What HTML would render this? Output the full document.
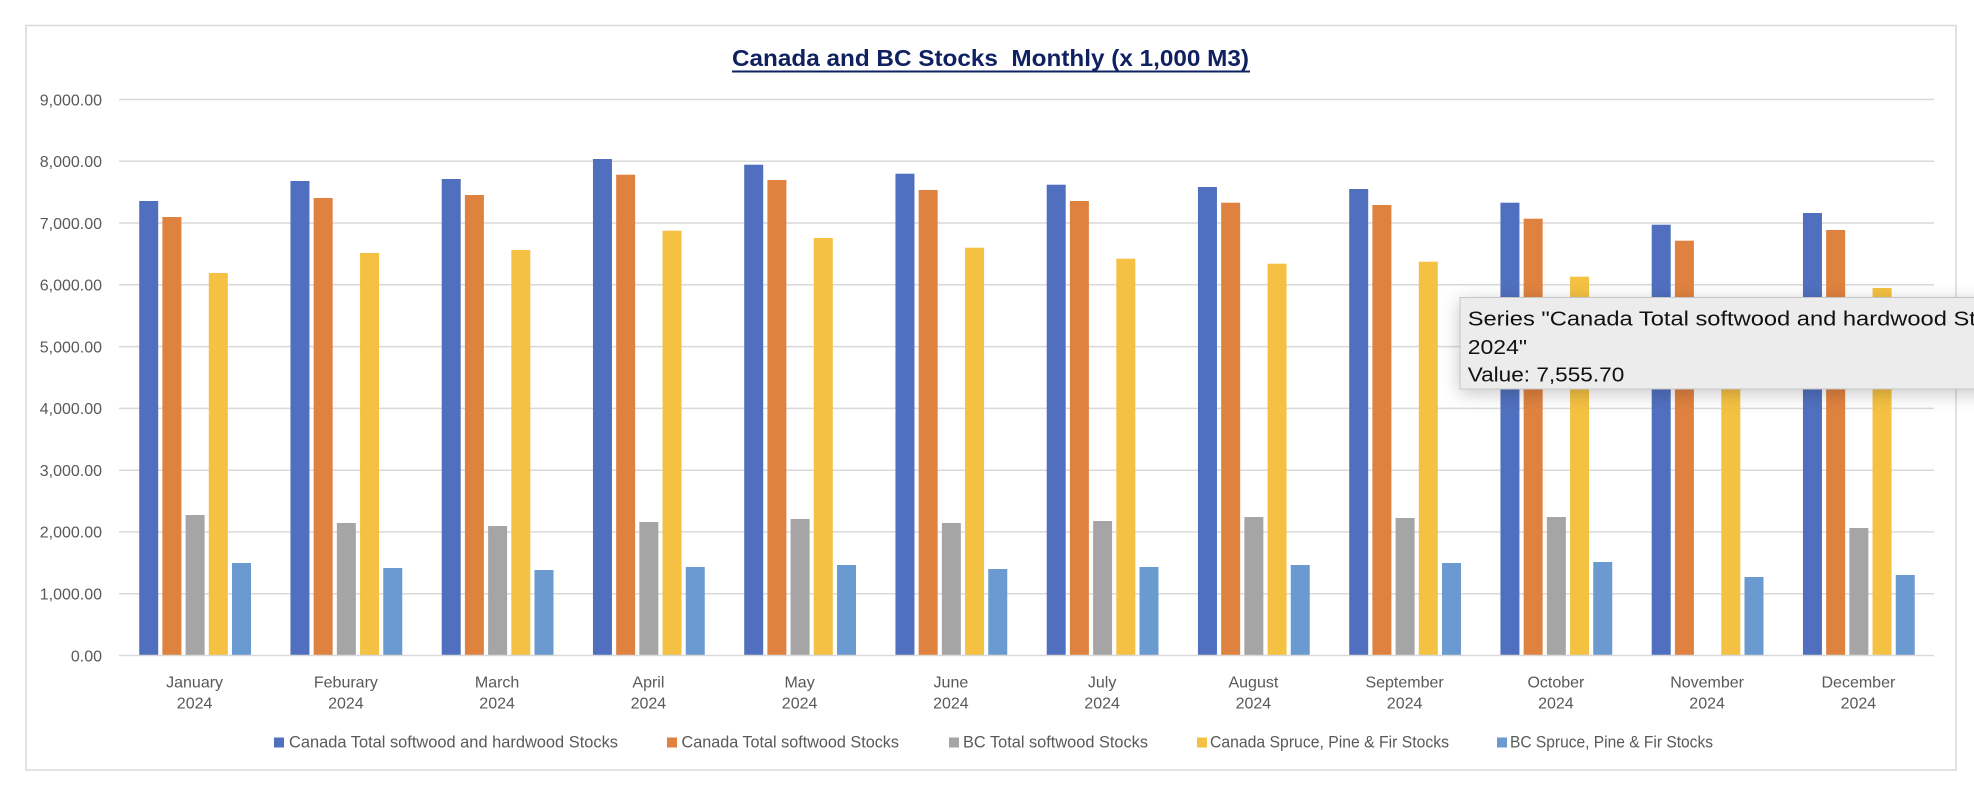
<!DOCTYPE html>
<html>
<head>
<meta charset="utf-8">
<style>
  html, body { margin: 0; padding: 0; background: #ffffff; }
  svg { display: block; }
  text { font-family: "Liberation Sans", Arial, sans-serif; }
</style>
</head>
<body>
<svg width="1974" height="792" viewBox="0 0 1974 792" xmlns="http://www.w3.org/2000/svg">
  <defs>
    <filter id="sh" x="-20%" y="-60%" width="140%" height="220%">
      <feDropShadow dx="0" dy="4" stdDeviation="9" flood-color="#000" flood-opacity="0.22"/>
    </filter>
  </defs>
  <rect x="0" y="0" width="1974" height="792" fill="#ffffff"/>
  <!-- chart border -->
  <rect x="26" y="25.5" width="1930" height="744.5" fill="#ffffff" stroke="#d9d9d9" stroke-width="1.5"/>

  <!-- title -->
  <text x="732" y="66" font-size="23" font-weight="bold" fill="#0f2161" textLength="517" lengthAdjust="spacingAndGlyphs" xml:space="preserve">Canada and BC Stocks  Monthly (x 1,000 M3)</text>
  <rect x="732" y="70.5" width="518" height="2" fill="#0f2161"/>

  <!-- gridlines -->
  <g stroke="#d9d9d9" stroke-width="1.5">
    <line x1="119" x2="1934" y1="99.5" y2="99.5"/>
    <line x1="119" x2="1934" y1="161.3" y2="161.3"/>
    <line x1="119" x2="1934" y1="223.0" y2="223.0"/>
    <line x1="119" x2="1934" y1="284.8" y2="284.8"/>
    <line x1="119" x2="1934" y1="346.6" y2="346.6"/>
    <line x1="119" x2="1934" y1="408.4" y2="408.4"/>
    <line x1="119" x2="1934" y1="470.2" y2="470.2"/>
    <line x1="119" x2="1934" y1="531.9" y2="531.9"/>
    <line x1="119" x2="1934" y1="593.7" y2="593.7"/>
  </g>

  <!-- y labels -->
  <g font-size="16" fill="#595959" text-anchor="end">
    <text x="102" y="105.3">9,000.00</text>
    <text x="102" y="167.1">8,000.00</text>
    <text x="102" y="228.8">7,000.00</text>
    <text x="102" y="290.6">6,000.00</text>
    <text x="102" y="352.4">5,000.00</text>
    <text x="102" y="414.2">4,000.00</text>
    <text x="102" y="476.0">3,000.00</text>
    <text x="102" y="537.7">2,000.00</text>
    <text x="102" y="599.5">1,000.00</text>
    <text x="102" y="661.3">0.00</text>
  </g>

  <!-- bars: Canada Total softwood and hardwood -->
  <g fill="#5070bf">
    <rect x="139.2" y="201" width="19" height="454.5"/>
    <rect x="290.45" y="181" width="19" height="474.5"/>
    <rect x="441.7" y="179" width="19" height="476.5"/>
    <rect x="592.95" y="159" width="19" height="496.5"/>
    <rect x="744.2" y="164.7" width="19" height="490.8"/>
    <rect x="895.45" y="173.7" width="19" height="481.8"/>
    <rect x="1046.7" y="184.7" width="19" height="470.8"/>
    <rect x="1197.95" y="187" width="19" height="468.5"/>
    <rect x="1349.2" y="189" width="19" height="466.5"/>
    <rect x="1500.45" y="202.7" width="19" height="452.8"/>
    <rect x="1651.7" y="224.7" width="19" height="430.8"/>
    <rect x="1802.95" y="213" width="19" height="442.5"/>
  </g>
  <!-- Canada Total softwood -->
  <g fill="#e0823f">
    <rect x="162.4" y="217" width="19" height="438.5"/>
    <rect x="313.65" y="198" width="19" height="457.5"/>
    <rect x="464.9" y="195" width="19" height="460.5"/>
    <rect x="616.15" y="174.7" width="19" height="480.8"/>
    <rect x="767.4" y="180" width="19" height="475.5"/>
    <rect x="918.65" y="190" width="19" height="465.5"/>
    <rect x="1069.9" y="201" width="19" height="454.5"/>
    <rect x="1221.15" y="202.7" width="19" height="452.8"/>
    <rect x="1372.4" y="205" width="19" height="450.5"/>
    <rect x="1523.65" y="218.7" width="19" height="436.8"/>
    <rect x="1674.9" y="240.7" width="19" height="414.8"/>
    <rect x="1826.15" y="230" width="19" height="425.5"/>
  </g>
  <!-- BC Total softwood -->
  <g fill="#a5a5a5">
    <rect x="185.6" y="515" width="19" height="140.5"/>
    <rect x="336.85" y="523" width="19" height="132.5"/>
    <rect x="488.1" y="526" width="19" height="129.5"/>
    <rect x="639.35" y="522" width="19" height="133.5"/>
    <rect x="790.6" y="519" width="19" height="136.5"/>
    <rect x="941.85" y="523" width="19" height="132.5"/>
    <rect x="1093.1" y="521" width="19" height="134.5"/>
    <rect x="1244.35" y="517" width="19" height="138.5"/>
    <rect x="1395.6" y="518" width="19" height="137.5"/>
    <rect x="1546.85" y="517" width="19" height="138.5"/>
    <rect x="1849.35" y="528" width="19" height="127.5"/>
  </g>
  <!-- Canada Spruce, Pine & Fir -->
  <g fill="#f4c142">
    <rect x="208.8" y="273" width="19" height="382.5"/>
    <rect x="360.05" y="253" width="19" height="402.5"/>
    <rect x="511.3" y="250" width="19" height="405.5"/>
    <rect x="662.55" y="230.7" width="19" height="424.8"/>
    <rect x="813.8" y="238" width="19" height="417.5"/>
    <rect x="965.05" y="247.7" width="19" height="407.8"/>
    <rect x="1116.3" y="258.7" width="19" height="396.8"/>
    <rect x="1267.55" y="263.7" width="19" height="391.8"/>
    <rect x="1418.8" y="261.7" width="19" height="393.8"/>
    <rect x="1570.05" y="276.7" width="19" height="378.8"/>
    <rect x="1721.3" y="310" width="19" height="345.5"/>
    <rect x="1872.55" y="288" width="19" height="367.5"/>
  </g>
  <!-- BC Spruce, Pine & Fir -->
  <g fill="#6a9ad0">
    <rect x="232" y="563" width="19" height="92.5"/>
    <rect x="383.25" y="568" width="19" height="87.5"/>
    <rect x="534.5" y="570" width="19" height="85.5"/>
    <rect x="685.75" y="567" width="19" height="88.5"/>
    <rect x="837" y="565" width="19" height="90.5"/>
    <rect x="988.25" y="569" width="19" height="86.5"/>
    <rect x="1139.5" y="567" width="19" height="88.5"/>
    <rect x="1290.75" y="565" width="19" height="90.5"/>
    <rect x="1442" y="563" width="19" height="92.5"/>
    <rect x="1593.25" y="562" width="19" height="93.5"/>
    <rect x="1744.5" y="577" width="19" height="78.5"/>
    <rect x="1895.75" y="575" width="19" height="80.5"/>
  </g>

  <!-- zero axis -->
  <line x1="119" x2="1934" y1="655.5" y2="655.5" stroke="#d9d9d9" stroke-width="1.5"/>

  <!-- category labels -->
  <g font-size="16" fill="#595959" text-anchor="middle">
    <text x="194.6" y="687.5">January</text><text x="194.6" y="708.3">2024</text>
    <text x="345.9" y="687.5">Feburary</text><text x="345.9" y="708.3">2024</text>
    <text x="497.1" y="687.5">March</text><text x="497.1" y="708.3">2024</text>
    <text x="648.4" y="687.5">April</text><text x="648.4" y="708.3">2024</text>
    <text x="799.6" y="687.5">May</text><text x="799.6" y="708.3">2024</text>
    <text x="950.9" y="687.5">June</text><text x="950.9" y="708.3">2024</text>
    <text x="1102.1" y="687.5">July</text><text x="1102.1" y="708.3">2024</text>
    <text x="1253.4" y="687.5">August</text><text x="1253.4" y="708.3">2024</text>
    <text x="1404.6" y="687.5">September</text><text x="1404.6" y="708.3">2024</text>
    <text x="1555.9" y="687.5">October</text><text x="1555.9" y="708.3">2024</text>
    <text x="1707.1" y="687.5">November</text><text x="1707.1" y="708.3">2024</text>
    <text x="1858.4" y="687.5">December</text><text x="1858.4" y="708.3">2024</text>
  </g>

  <!-- legend -->
  <g font-size="16.5" fill="#595959">
    <rect x="274" y="737.5" width="10" height="10" fill="#5070bf"/>
    <text x="289" y="747.7" textLength="329" lengthAdjust="spacingAndGlyphs">Canada Total softwood and hardwood Stocks</text>
    <rect x="667" y="737.5" width="10" height="10" fill="#e0823f"/>
    <text x="681.5" y="747.7" textLength="217.5" lengthAdjust="spacingAndGlyphs">Canada Total softwood Stocks</text>
    <rect x="949" y="737.5" width="10" height="10" fill="#a5a5a5"/>
    <text x="963" y="747.7" textLength="185" lengthAdjust="spacingAndGlyphs">BC Total softwood Stocks</text>
    <rect x="1197" y="737.5" width="10" height="10" fill="#f4c142"/>
    <text x="1210" y="747.7" textLength="239" lengthAdjust="spacingAndGlyphs">Canada Spruce, Pine &amp; Fir Stocks</text>
    <rect x="1497" y="737.5" width="10" height="10" fill="#6a9ad0"/>
    <text x="1510" y="747.7" textLength="203" lengthAdjust="spacingAndGlyphs">BC Spruce, Pine &amp; Fir Stocks</text>
  </g>

  <!-- tooltip -->
  <g filter="url(#sh)">
    <rect x="1460" y="297.5" width="560" height="91.5" fill="#ececec" stroke="#c6c6c6" stroke-width="1"/>
  </g>
  <g font-size="20" fill="#111111">
    <text x="0" y="325.7" transform="translate(1467.7 0) scale(1.185 1)">Series "Canada Total softwood and hardwood Stocks" Point "September</text>
    <text x="0" y="354" transform="translate(1467.7 0) scale(1.15 1)">2024"</text>
    <text x="0" y="381.3" transform="translate(1467.7 0) scale(1.13 1)">Value: 7,555.70</text>
  </g>
</svg>
</body>
</html>
